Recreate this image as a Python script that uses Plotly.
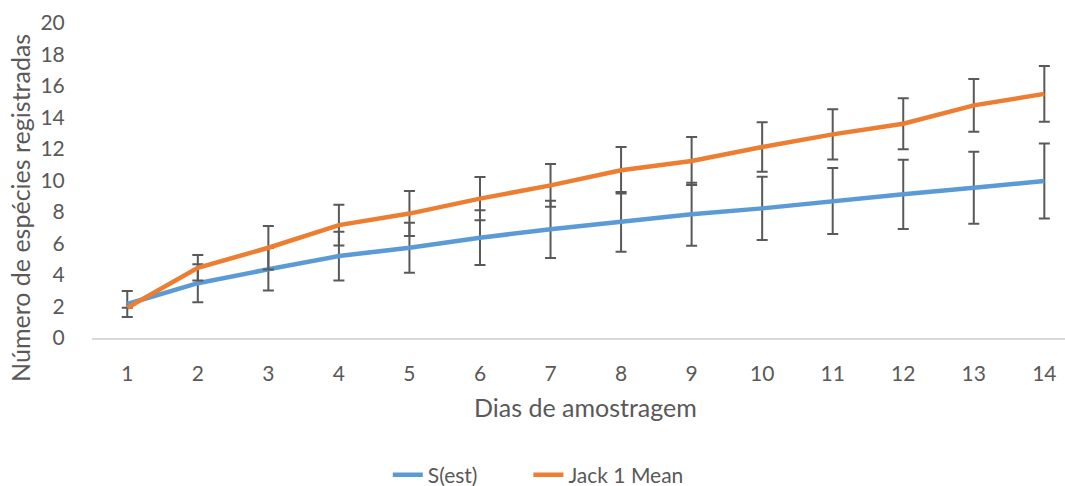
import plotly.graph_objects as go

days = list(range(1, 15))
s_est = [2.16, 3.48, 4.36, 5.2, 5.73, 6.37, 6.9, 7.37, 7.85, 8.23, 8.7, 9.12, 9.54, 9.97]
s_est_err = [0.82, 1.21, 1.35, 1.55, 1.58, 1.74, 1.82, 1.9, 2.0, 2.01, 2.1, 2.2, 2.28, 2.38]
jack1 = [1.92, 4.46, 5.73, 7.17, 7.9, 8.85, 9.69, 10.65, 11.24, 12.13, 12.93, 13.6, 14.77, 15.5]
jack1_err = [0, 0.81, 1.38, 1.29, 1.43, 1.37, 1.35, 1.48, 1.52, 1.57, 1.6, 1.62, 1.67, 1.77]
y_ticks = [0, 2, 4, 6, 8, 10, 12, 14, 16, 18, 20]

FONT = "Lato"
TXT = "#595959"
err_style = dict(type="data", color="#595959", thickness=2, width=5.5)

fig = go.Figure()
fig.add_trace(go.Scatter(
    x=days, y=s_est, name="S(est)", mode="lines",
    line=dict(color="#5B9BD5", width=4.5),
    error_y=dict(array=s_est_err, **err_style),
    legend="legend",
))
fig.add_trace(go.Scatter(
    x=days, y=jack1, name="Jack 1 Mean", mode="lines",
    line=dict(color="#ED7D31", width=4.5),
    error_y=dict(array=jack1_err, **err_style),
    legend="legend2",
))

leg_common = dict(orientation="h", xanchor="left", yanchor="middle",
                  y=-0.435, font=dict(size=21, color=TXT), bgcolor="rgba(0,0,0,0)")

fig.update_layout(
    width=1065, height=486,
    margin=dict(l=92, r=0, t=23, b=148, autoexpand=False),
    paper_bgcolor="white", plot_bgcolor="white",
    font=dict(family=FONT, size=21, color=TXT),
    showlegend=True,
    legend=dict(x=0.304, **leg_common),
    legend2=dict(x=0.4485, **leg_common),
    annotations=[
        dict(text="Número de espécies registradas", xref="paper", yref="paper",
             x=-0.074, y=0.413, textangle=-90, showarrow=False,
             font=dict(size=25, color=TXT), xanchor="center", yanchor="middle"),
        dict(text="Dias de amostragem", xref="paper", yref="paper",
             x=0.507, y=-0.22, showarrow=False,
             font=dict(size=25, color=TXT), xanchor="center", yanchor="middle"),
    ],
)
fig.update_xaxes(
    range=[0.5, 14.293], tickvals=days, ticktext=[str(d) for d in days],
    showgrid=False, zeroline=False, showline=True, linecolor="#D9D9D9", linewidth=1.5,
    ticks="outside", ticklen=16, tickcolor="rgba(0,0,0,0)",
    tickfont=dict(size=21, color=TXT),
)
fig.update_yaxes(
    range=[0, 20], tickvals=y_ticks, ticktext=[str(v) for v in y_ticks],
    showgrid=False, zeroline=False, showline=False,
    ticks="outside", ticklen=22, tickcolor="rgba(0,0,0,0)",
    tickfont=dict(size=21, color=TXT),
)

fig.write_html("out.html")
